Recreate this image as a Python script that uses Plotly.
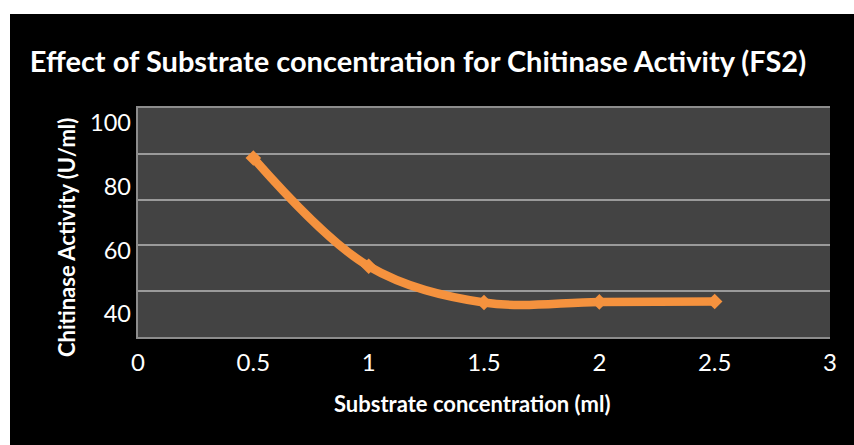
import plotly.graph_objects as go

# Substrate concentration (ml) and measured chitinase activity (U/ml)
substrate_ml = [0.5, 1.0, 1.5, 2.0, 2.5]
activity_u_ml = [89.0, 55.0, 43.6, 43.8, 43.9]

x_ticks = [0, 0.5, 1, 1.5, 2, 2.5, 3]
x_tick_text = ["0", "0.5", "1", "1.5", "2", "2.5", "3"]
y_ticks = [40, 60, 80, 100]
y_tick_text = ["40", "60", "80", "100"]

FONT = "Lato"
ORANGE = "#F5923E"

fig = go.Figure()

# activity curve, drawn on the labelled value axis (y2)
fig.add_trace(go.Scatter(
    x=substrate_ml, y=activity_u_ml, yaxis="y2",
    mode="lines+markers",
    line=dict(color=ORANGE, width=8.5, shape="spline", smoothing=1.0),
    marker=dict(symbol="diamond", size=12, color=ORANGE),
    showlegend=False, hoverinfo="x+y",
))
# invisible helper so the band axis (y) carrying the grid is laid out
fig.add_trace(go.Scatter(x=[0, 3], y=[0, 5], mode="markers",
                         marker=dict(opacity=0), showlegend=False,
                         hoverinfo="skip"))

fig.update_layout(
    width=854, height=445,
    margin=dict(l=138, r=24, t=108, b=108),
    paper_bgcolor="#000000",
    plot_bgcolor="#434343",
    font=dict(family=FONT, color="#ffffff"),
    title=dict(
        text="<b>Effect of Substrate concentration for Chitinase Activity (FS2)</b>",
        font=dict(family=FONT, size=29, color="#ffffff"),
        xref="paper", x=(418 - 138) / 692, xanchor="center",
        yref="container", y=1 - 62 / 445, yanchor="middle",
    ),
    xaxis=dict(
        range=[0, 3], tickvals=x_ticks, ticktext=x_tick_text,
        showgrid=False, zeroline=False,
        showline=True, linecolor="#8c8c8c", linewidth=2, mirror=True,
        ticks="", ticklabelstandoff=3,
        tickfont=dict(family=FONT, size=24, color="#ffffff"),
    ),
    yaxis=dict(
        range=[0, 5], tickvals=[1, 2, 3, 4], showticklabels=False,
        showgrid=True, gridcolor="#9a9a9a", gridwidth=1.5,
        zeroline=False, showline=True, linecolor="#8c8c8c", linewidth=2,
        ticks="", fixedrange=True,
    ),
    yaxis2=dict(
        overlaying="y", side="left",
        range=[32.77, 104.71], tickvals=y_ticks, ticktext=y_tick_text,
        showgrid=False, zeroline=False, showline=False, ticks="",
        ticklabelstandoff=6,
        tickfont=dict(family=FONT, size=23.5, color="#ffffff"),
    ),
    annotations=[
        dict(text="<b>Chitinase Activity (U/ml)</b>", textangle=-90,
             xref="paper", yref="paper",
             x=(66 - 138) / 692, y=(337 - 238) / 229,
             xanchor="center", yanchor="middle", showarrow=False,
             font=dict(family=FONT, size=22, color="#ffffff")),
        dict(text="<b>Substrate concentration (ml)</b>",
             xref="paper", yref="paper",
             x=(472 - 138) / 692, y=(337 - 403) / 229,
             xanchor="center", yanchor="middle", showarrow=False,
             font=dict(family=FONT, size=22, color="#ffffff")),
    ],
    shapes=[
        # white page edge along the top and left
        dict(type="rect", xref="paper", yref="paper",
             x0=-0.3, x1=1.2, y0=(337 - 14) / 229, y1=1.6,
             fillcolor="#ffffff", line=dict(width=0), layer="above"),
        dict(type="rect", xref="paper", yref="paper",
             x0=-0.3, x1=(10 - 138) / 692, y0=-0.6, y1=1.6,
             fillcolor="#ffffff", line=dict(width=0), layer="above"),
    ],
)

fig.write_html("out.html")
